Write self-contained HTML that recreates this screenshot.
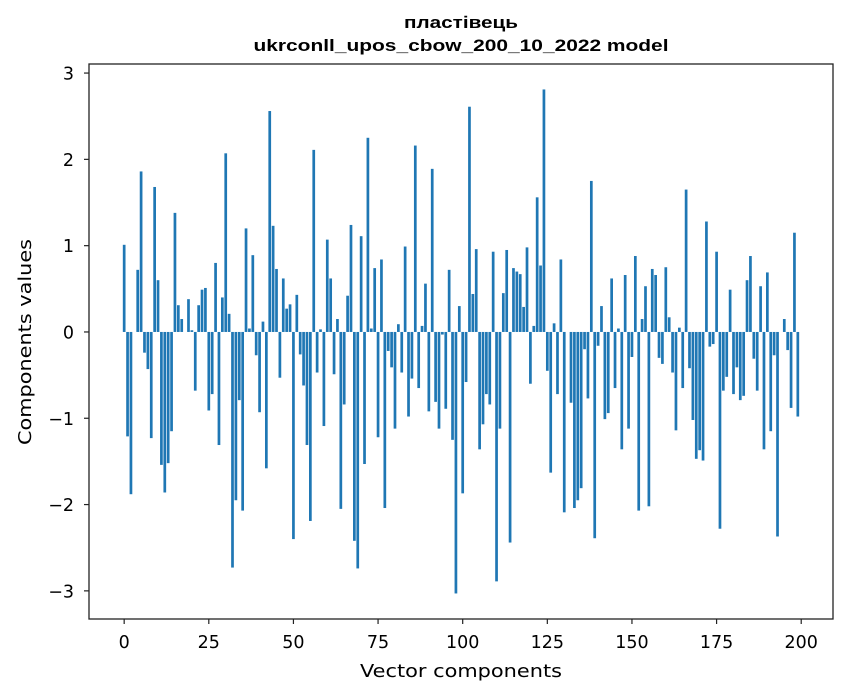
<!DOCTYPE html>
<html><head><meta charset="utf-8"><style>
html,body{margin:0;padding:0;background:#fff;}
svg{display:block;font-family:"DejaVu Sans","Liberation Sans",sans-serif;}
</style></head><body>
<svg id="chart" width="847" height="696" viewBox="0 0 847 696">
<rect width="847" height="696" fill="#fff"/>
<text x="461" y="28" text-anchor="middle" font-family="Liberation Sans, Arial, sans-serif" font-size="16.5" font-weight="bold" textLength="114" lengthAdjust="spacingAndGlyphs">пластівець</text>
<text x="461" y="51" text-anchor="middle" font-family="Liberation Sans, Arial, sans-serif" font-size="16.5" font-weight="bold" textLength="415" lengthAdjust="spacingAndGlyphs">ukrconll_upos_cbow_200_10_2022 model</text>
<g id="bars"></g>
<g id="xticks"></g>
<g id="yticks"></g>
<rect x="89" y="64" width="744" height="555" fill="none" stroke="#222" stroke-width="1.3"/>
<text x="461" y="677" text-anchor="middle" font-size="18" textLength="202" lengthAdjust="spacingAndGlyphs">Vector components</text>
<text transform="translate(31,342) rotate(-90)" text-anchor="middle" font-size="18" textLength="206" lengthAdjust="spacingAndGlyphs">Components values</text>
</svg>
<script>
const values = [1.01,-1.21,-1.88,0,0.72,1.86,-0.24,-0.43,-1.23,1.68,0.60,-1.54,-1.86,-1.52,-1.15,1.38,0.31,0.15,0,0.38,
0.02,-0.68,0.31,0.49,0.51,-0.91,-0.72,0.80,-1.31,0.40,2.07,0.21,-2.73,-1.95,-0.79,-2.07,1.20,0.04,0.89,-0.27,
-0.93,0.12,-1.58,2.56,1.23,0.73,-0.53,0.62,0.27,0.32,-2.40,0.43,-0.26,-0.62,-1.31,-2.19,2.11,-0.47,0.03,-1.09,
1.07,0.62,-0.49,0.15,-2.05,-0.84,0.42,1.24,-2.42,-2.74,1.11,-1.53,2.25,0.04,0.74,-1.22,0.84,-2.04,-0.22,-0.41,
-1.12,0.09,-0.47,0.99,-0.98,-0.54,2.16,-0.65,0.07,0.56,-0.92,1.89,-0.81,-1.12,-0.03,-0.89,0.72,-1.25,-3.03,0.30,
-1.87,-0.58,2.61,0.44,0.96,-1.36,-1.07,-0.72,-0.84,0.93,-2.89,-1.12,0.45,0.95,-2.44,0.74,0.70,0.67,0.29,0.98,
-0.60,0.07,1.56,0.77,2.81,-0.45,-1.63,0.10,-0.72,0.84,-2.09,0,-0.82,-2.04,-1.95,-1.81,-0.20,-0.77,1.75,-2.39,
-0.16,0.30,-1.01,-0.94,0.62,-0.65,0.04,-1.36,0.66,-1.12,-0.29,0.88,-2.07,0.15,0.53,-2.02,0.73,0.66,-0.30,-0.37,
0.75,0.17,-0.47,-1.14,0.05,-0.65,1.65,-0.42,-1.02,-1.47,-1.37,-1.49,1.28,-0.17,-0.14,0.93,-2.28,-0.68,-0.52,0.49,
-0.72,-0.41,-0.79,-0.74,0.60,0.88,-0.31,-0.68,0.53,-1.36,0.69,-1.15,-0.27,-2.37,0,0.15,-0.21,-0.88,1.15,-0.98];
const xTickValues = [0,25,50,75,100,125,150,175,200];
const yTickValues = [-3,-2,-1,0,1,2,3];
const yTickLabels = ["\u22123","\u22122","\u22121","0","1","2","3"];

const NS = "http://www.w3.org/2000/svg";
const L=89,R=833,T=64,B=619;
const xMin=-10.39,xMax=209.39,yMin=-3.326,yMax=3.105;
function xs(v){return L+(v-xMin)/(xMax-xMin)*(R-L);}
function ys(v){return B-(v-yMin)/(yMax-yMin)*(B-T);}
const barsG=document.getElementById('bars');
values.forEach((v,i)=>{
  const r=document.createElementNS(NS,'rect');
  const x0=xs(i-0.4),x1=xs(i+0.4);
  const y0=ys(Math.max(v,0)),y1=ys(Math.min(v,0));
  r.setAttribute('x',x0);r.setAttribute('width',x1-x0);
  r.setAttribute('y',y0);r.setAttribute('height',Math.max(y1-y0,0));
  r.setAttribute('fill','#1f77b4');
  
  
  barsG.appendChild(r);
});
const xg=document.getElementById('xticks');
xTickValues.forEach(t=>{
  const x=xs(t);
  const ln=document.createElementNS(NS,'line');
  ln.setAttribute('x1',x);ln.setAttribute('x2',x);ln.setAttribute('y1',B);ln.setAttribute('y2',B+5);
  ln.setAttribute('stroke','#222');ln.setAttribute('stroke-width','1.2');
  
  
  xg.appendChild(ln);
  const tx=document.createElementNS(NS,'text');
  tx.setAttribute('x',x);tx.setAttribute('y',B+29);tx.setAttribute('text-anchor','middle');tx.setAttribute('font-size','17.5');
  tx.textContent=String(t);
  
  
  xg.appendChild(tx);
});
const yg=document.getElementById('yticks');
yTickValues.forEach((t,k)=>{
  const y=ys(t);
  const ln=document.createElementNS(NS,'line');
  ln.setAttribute('x1',L-5);ln.setAttribute('x2',L);ln.setAttribute('y1',y);ln.setAttribute('y2',y);
  ln.setAttribute('stroke','#222');ln.setAttribute('stroke-width','1.2');
  
  
  yg.appendChild(ln);
  const tx=document.createElementNS(NS,'text');
  tx.setAttribute('x',L-15);tx.setAttribute('y',y+6.5);tx.setAttribute('text-anchor','end');tx.setAttribute('font-size','17.5');
  tx.textContent=yTickLabels[k];
  
  
  yg.appendChild(tx);
});
</script>
</body></html>
